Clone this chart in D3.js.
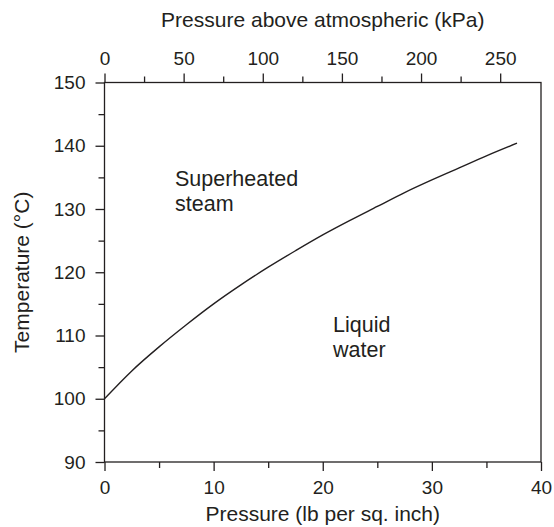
<!DOCTYPE html>
<html>
<head>
<meta charset="utf-8">
<script src="https://cdn.jsdelivr.net/npm/d3@7"></script>
<style>
  html, body { margin: 0; padding: 0; background: #fff; }
  svg text { font-family: "Liberation Sans", Arial, Helvetica, sans-serif; fill: #231f20; }
</style>
</head>
<body>
<svg id="chart" width="554" height="527"></svg>
<script>
// Saturation curve of water: gauge pressure (psi) against boiling temperature (°C)
const pressurePsi = [0, 2.5, 5, 7.5, 10, 12.5, 15, 17.5, 20, 22.5, 25, 27.5, 30, 32.5, 35, 37.8];
const temperatureC = [100, 104.4, 108.2, 111.7, 115.0, 118.0, 120.8, 123.4, 125.9, 128.2, 130.4, 132.6, 134.6, 136.5, 138.4, 140.4];

const psiTicks = [0, 10, 20, 30, 40];
const psiMinorTicks = [5, 15, 25, 35];
const kpaTicks = [0, 50, 100, 150, 200, 250];
const kpaMinorTicks = [25, 75, 125, 175, 225];
const tempTicks = [90, 100, 110, 120, 130, 140, 150];
const tempMinorTicks = [95, 105, 115, 125, 135, 145];

const PSI_TO_KPA = 6.894757;

const svg = d3.select("#chart");
const plotLeft = 104.5, plotRight = 541, plotTop = 82.5, plotBottom = 462;

const x = d3.scaleLinear().domain([0, 40]).range([plotLeft, plotRight]);
const xk = d3.scaleLinear().domain([0, 40 * PSI_TO_KPA]).range([plotLeft, plotRight]);
const y = d3.scaleLinear().domain([90, 150]).range([plotBottom, plotTop]);

const ink = "#231f20";
const labelSize = "19px";

function styleAxis(g) {
  g.select(".domain").remove();
  g.selectAll("line").attr("stroke", ink).attr("stroke-width", 1.3);
  g.selectAll("text").attr("font-size", labelSize).attr("fill", ink);
}

// frame
svg.append("rect")
  .attr("x", plotLeft).attr("y", plotTop)
  .attr("width", plotRight - plotLeft).attr("height", plotBottom - plotTop)
  .attr("fill", "none").attr("stroke", ink).attr("stroke-width", 1.3);

// bottom axis (psi)
svg.append("g").attr("transform", `translate(0,${plotBottom})`)
  .call(d3.axisBottom(x).tickValues(psiTicks).tickSize(9).tickPadding(10).tickFormat(d3.format("d")))
  .call(styleAxis);
svg.append("g").attr("transform", `translate(0,${plotBottom})`)
  .call(d3.axisBottom(x).tickValues(psiMinorTicks).tickSize(6).tickFormat(""))
  .call(styleAxis);

// top axis (kPa)
svg.append("g").attr("transform", `translate(0,${plotTop})`)
  .call(d3.axisTop(xk).tickValues(kpaTicks).tickSize(9).tickPadding(9).tickFormat(d3.format("d")))
  .call(styleAxis);
svg.append("g").attr("transform", `translate(0,${plotTop})`)
  .call(d3.axisTop(xk).tickValues(kpaMinorTicks).tickSize(6).tickFormat(""))
  .call(styleAxis);

// left axis (temperature)
svg.append("g").attr("transform", `translate(${plotLeft},0)`)
  .call(d3.axisLeft(y).tickValues(tempTicks).tickSize(9).tickPadding(10).tickFormat(d3.format("d")))
  .call(styleAxis);
svg.append("g").attr("transform", `translate(${plotLeft},0)`)
  .call(d3.axisLeft(y).tickValues(tempMinorTicks).tickSize(6).tickFormat(""))
  .call(styleAxis);

// boiling curve
const line = d3.line()
  .x((d, i) => x(pressurePsi[i]))
  .y(d => y(d))
  .curve(d3.curveMonotoneX);
svg.append("path")
  .datum(temperatureC)
  .attr("d", line)
  .attr("fill", "none")
  .attr("stroke", ink)
  .attr("stroke-width", 1.4);

// axis titles
const mid = (plotLeft + plotRight) / 2;
svg.append("text").attr("x", mid).attr("y", 521)
  .attr("text-anchor", "middle").attr("font-size", "21px")
  .text("Pressure (lb per sq. inch)");
svg.append("text").attr("x", mid).attr("y", 27)
  .attr("text-anchor", "middle").attr("font-size", "21px")
  .text("Pressure above atmospheric (kPa)");
svg.append("text")
  .attr("transform", `translate(29,${(plotTop + plotBottom) / 2}) rotate(-90)`)
  .attr("text-anchor", "middle").attr("font-size", "21px")
  .text("Temperature (°C)");

// region labels
function regionLabel(lines, px, py) {
  const t = svg.append("text").attr("font-size", "21.5px");
  lines.forEach((s, i) => {
    t.append("tspan").attr("x", px).attr("y", py + i * 25).text(s);
  });
}
regionLabel(["Superheated", "steam"], 175, 185.5);
regionLabel(["Liquid", "water"], 333, 332);
</script>
</body>
</html>
